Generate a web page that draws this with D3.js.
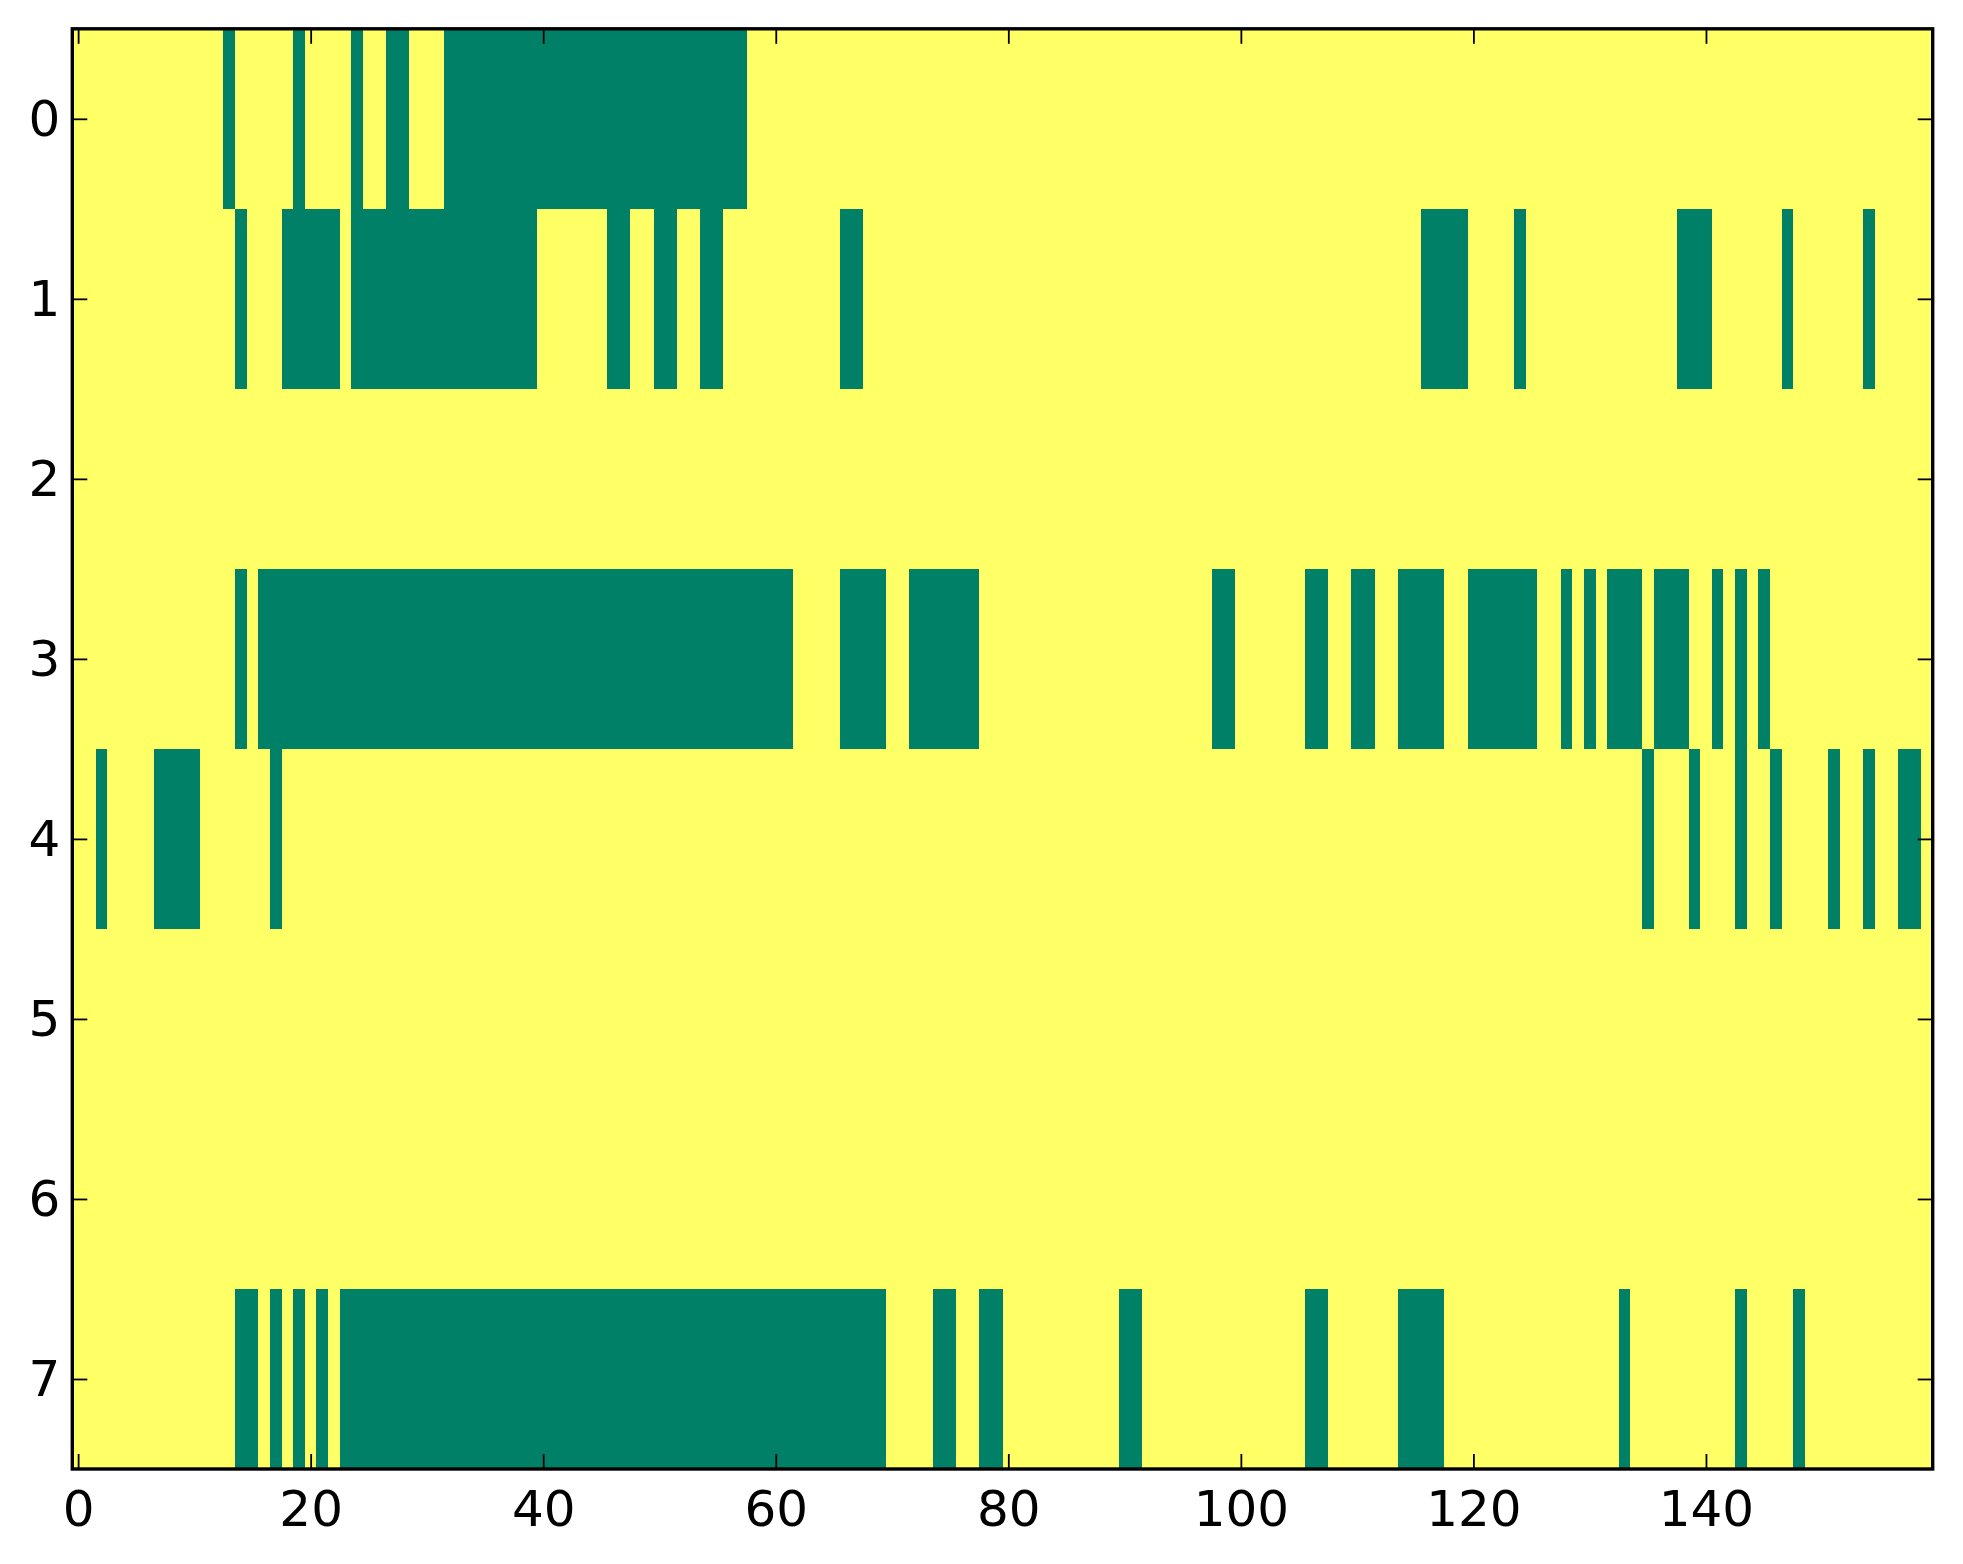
<!DOCTYPE html>
<html>
<head>
<meta charset="utf-8">
<script src="https://cdn.jsdelivr.net/npm/d3@7"></script>
<style>
  html, body { margin: 0; padding: 0; background: #ffffff; }
  svg { display: block; }
</style>
</head>
<body>
<div id="chart"></div>
<script>
// ---- Data ----
const nCols = 160;
const rowLabels = [0, 1, 2, 3, 4, 5, 6, 7];
const xTickValues = [0, 20, 40, 60, 80, 100, 120, 140];
const cellValues = [0, 1]; // 0 -> green, 1 -> yellow

// columns whose value is 0 in each row (all other cells are 1)
const row0Zeros = [13, 19, 24, 27, 28,
  32, 33, 34, 35, 36, 37, 38, 39, 40, 41, 42, 43, 44, 45, 46, 47, 48, 49, 50, 51, 52, 53, 54, 55, 56, 57];
const row1Zeros = [14, 18, 19, 20, 21, 22,
  24, 25, 26, 27, 28, 29, 30, 31, 32, 33, 34, 35, 36, 37, 38, 39,
  46, 47, 50, 51, 54, 55, 66, 67, 116, 117, 118, 119, 124, 138, 139, 140, 147, 154];
const row2Zeros = [];
const row3Zeros = [14,
  16, 17, 18, 19, 20, 21, 22, 23, 24, 25, 26, 27, 28, 29, 30, 31, 32, 33, 34, 35, 36, 37, 38,
  39, 40, 41, 42, 43, 44, 45, 46, 47, 48, 49, 50, 51, 52, 53, 54, 55, 56, 57, 58, 59, 60, 61,
  66, 67, 68, 69, 72, 73, 74, 75, 76, 77, 98, 99, 106, 107, 110, 111, 114, 115, 116, 117,
  120, 121, 122, 123, 124, 125, 128, 130, 132, 133, 134, 136, 137, 138, 141, 143, 145];
const row4Zeros = [2, 7, 8, 9, 10, 17, 135, 139, 143, 146, 151, 154, 157, 158];
const row5Zeros = [];
const row6Zeros = [];
const row7Zeros = [14, 15, 17, 19, 21,
  23, 24, 25, 26, 27, 28, 29, 30, 31, 32, 33, 34, 35, 36, 37, 38, 39, 40, 41, 42, 43, 44, 45, 46,
  47, 48, 49, 50, 51, 52, 53, 54, 55, 56, 57, 58, 59, 60, 61, 62, 63, 64, 65, 66, 67, 68, 69,
  74, 75, 78, 79, 90, 91, 106, 107, 114, 115, 116, 117, 133, 143, 148];

const rowZeros = [row0Zeros, row1Zeros, row2Zeros, row3Zeros, row4Zeros, row5Zeros, row6Zeros, row7Zeros];

// build the cell table
const cells = [];
rowZeros.forEach((zeros, r) => {
  const zs = new Set(zeros);
  for (let c = 0; c < nCols; c++) {
    cells.push({ row: r, col: c, value: zs.has(c) ? 0 : 1 });
  }
});

// ---- Layout ----
const W = 1963, H = 1564;
const plot = { left: 72.3, right: 1932.7, top: 28.8, bottom: 1469 };
const fontSize = 50;
const tickLen = 15;

const svg = d3.select('#chart').append('svg')
  .attr('width', W).attr('height', H)
  .attr('viewBox', `0 0 ${W} ${H}`);

const x = d3.scaleLinear().domain([-0.5, nCols - 0.5]).range([plot.left, plot.right]);
const y = d3.scaleLinear().domain([-0.5, rowLabels.length - 0.5]).range([plot.top, plot.bottom]);
const color = d3.scaleOrdinal().domain(cellValues).range(['#008066', '#ffff66']);

// cells
svg.append('g')
  .attr('shape-rendering', 'crispEdges')
  .selectAll('rect')
  .data(cells)
  .join('rect')
  .attr('x', d => x(d.col - 0.5))
  .attr('y', d => y(d.row - 0.5))
  .attr('width', d => x(d.col + 0.5) - x(d.col - 0.5) + 0.3)
  .attr('height', d => y(d.row + 0.5) - y(d.row - 0.5) + 0.3)
  .attr('fill', d => color(d.value));

function styleAxis(g, showLabels) {
  g.select('.domain').remove();
  g.selectAll('.tick line').attr('stroke', '#000').attr('stroke-width', 1.8);
  g.selectAll('.tick text')
    .attr('fill', '#000')
    .style('font-family', '"DejaVu Sans", sans-serif')
    .style('font-size', fontSize + 'px');
  if (!showLabels) g.selectAll('.tick text').remove();
}

// bottom axis (ticks inward)
svg.append('g')
  .attr('transform', `translate(0,${plot.bottom})`)
  .call(d3.axisBottom(x).tickValues(xTickValues).tickFormat(d3.format('d'))
    .tickSizeInner(-tickLen).tickSizeOuter(0).tickPadding(21.5))
  .call(g => styleAxis(g, true));

// top axis (ticks only)
svg.append('g')
  .attr('transform', `translate(0,${plot.top})`)
  .call(d3.axisTop(x).tickValues(xTickValues).tickSizeInner(-tickLen).tickSizeOuter(0))
  .call(g => styleAxis(g, false));

// left axis
svg.append('g')
  .attr('transform', `translate(${plot.left},0)`)
  .call(d3.axisLeft(y).tickValues(rowLabels).tickFormat(d3.format('d'))
    .tickSizeInner(-tickLen).tickSizeOuter(0).tickPadding(12))
  .call(g => styleAxis(g, true))
  .call(g => g.selectAll('.tick text').attr('dy', '0.33em'));

// right axis (ticks only)
svg.append('g')
  .attr('transform', `translate(${plot.right},0)`)
  .call(d3.axisRight(y).tickValues(rowLabels).tickSizeInner(-tickLen).tickSizeOuter(0))
  .call(g => styleAxis(g, false));

// frame
svg.append('rect')
  .attr('x', plot.left).attr('y', plot.top)
  .attr('width', plot.right - plot.left).attr('height', plot.bottom - plot.top)
  .attr('fill', 'none').attr('stroke', '#000').attr('stroke-width', 3.4);
</script>
</body>
</html>
